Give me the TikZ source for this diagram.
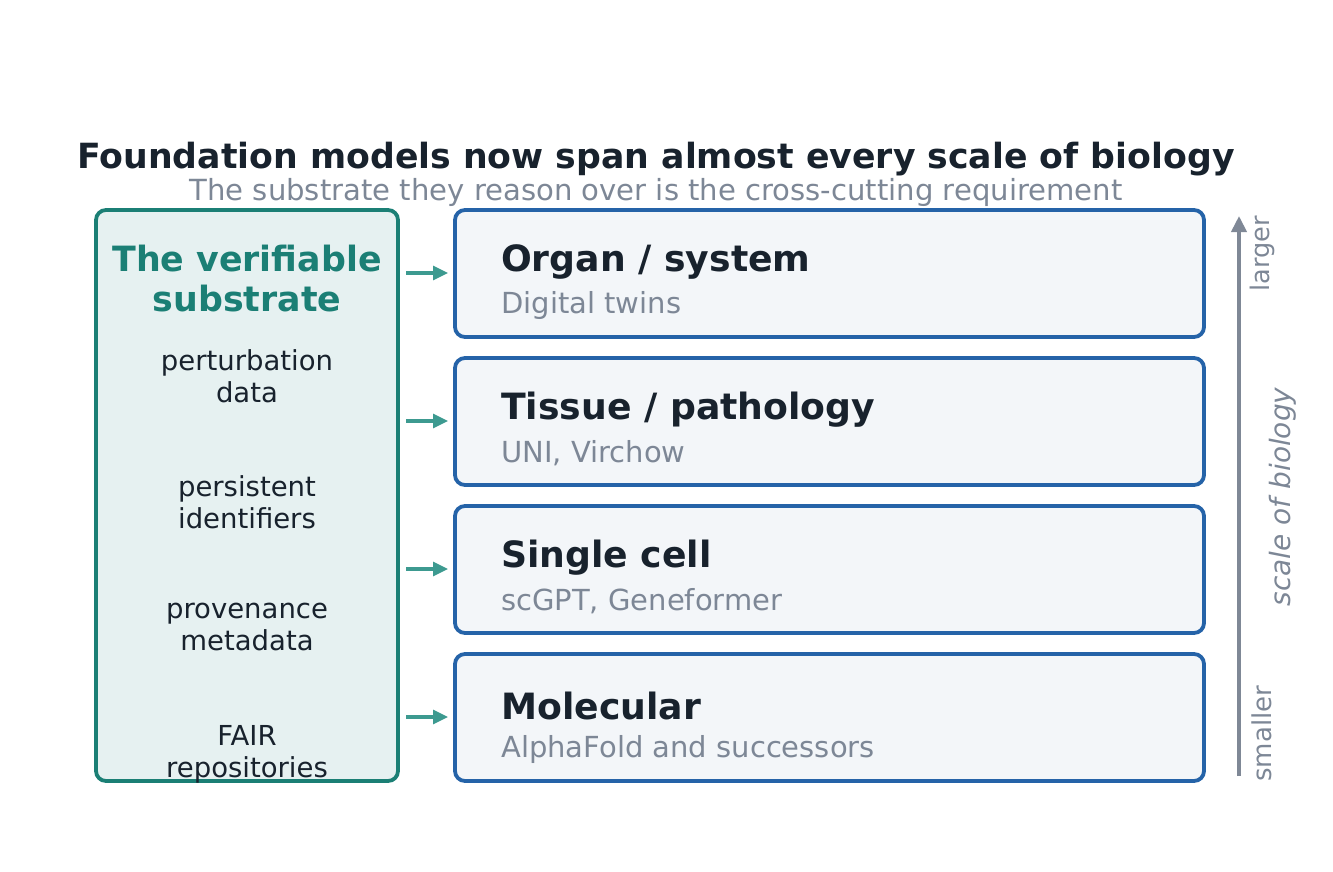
\documentclass[tikz,border=0pt]{standalone}
\usepackage{fontspec}
\setmainfont{DejaVu Sans}
\usetikzlibrary{arrows.meta}
\definecolor{dark}{HTML}{18222D}
\definecolor{gray}{HTML}{7D8796}
\definecolor{teal}{HTML}{1B7F75}
\definecolor{tealfill}{HTML}{E6F1F1}
\definecolor{tealarrow}{HTML}{3D9A90}
\definecolor{blue}{HTML}{2563A8}
\definecolor{bluefill}{HTML}{F3F6F9}
\definecolor{axis}{HTML}{7F8896}
\tikzset{
  x=1pt,y=-1pt,
  scalebox/.style={draw=blue,fill=bluefill,line width=3.8pt,rounded corners=10pt},
  headtxt/.style={anchor=west,text=dark,font=\fontsize{36.2}{40}\selectfont\bfseries,inner sep=0},
  subtxt/.style={anchor=west,text=gray,font=\fontsize{29}{32}\selectfont,inner sep=0},
  itemtxt/.style={align=center,text=dark,font=\fontsize{27.5}{32}\selectfont,inner sep=0},
  feed/.style={draw=tealarrow,line width=3.2pt,-{Triangle[length=15pt,width=14pt]}},
}
\begin{document}
\begin{tikzpicture}
\useasboundingbox (0,0) rectangle (1333,872);
\node[text=dark,font=\fontsize{34.7}{40}\selectfont\bfseries,inner sep=0] (title) at (656,159) {Foundation models now span almost every scale of biology};
\node[text=gray,font=\fontsize{29.1}{32}\selectfont,inner sep=0] (subtitle) at (656,192) {The substrate they reason over is the cross-cutting requirement};
% left box
\draw[draw=teal,fill=tealfill,line width=3.8pt,rounded corners=10pt] (96,210) rectangle (398,781);
\node[align=center,text=teal,font=\fontsize{34.8}{40}\selectfont\bfseries,inner sep=0] (subst) at (247,279) {The verifiable\\substrate};
\node[itemtxt] (i1) at (247,376) {perturbation\\data};
\node[itemtxt] (i2) at (247,502) {persistent\\identifiers};
\node[itemtxt] (i3) at (247,627) {provenance\\metadata};
\node[itemtxt] (i4) at (247,754) {FAIR\\repositories};
% right boxes
\foreach \n/\t/\h/\s in {1/210/{Organ / system}/{Digital twins},2/358/{Tissue / pathology}/{UNI, Virchow},3/506/{Single cell}/{scGPT, Geneformer},4/654/{Molecular}/{AlphaFold and successors}}{
  \draw[scalebox] (455,\t) rectangle (1204,\t+127);
  \node[headtxt] (h\n) at (501,\t+52) {\h};
  \node[subtxt] (s\n) at (501,\t+95) {\s};
  \coordinate (a\n) at (406,\t+63);
  \coordinate (b\n) at (448,\t+63);
  \draw[feed] (a\n) -- (b\n);
}
% axis
\coordinate (ax0) at (1239,776);
\coordinate (ax1) at (1239,216);
\draw[draw=axis,line width=3.8pt,-{Triangle[length=16pt,width=15pt]}] (ax0) -- (ax1);
\node[rotate=90,anchor=east,text=gray,font=\fontsize{25.6}{28}\selectfont,inner sep=0] (larger) at (1262,216) {larger};
\node[rotate=90,anchor=west,text=gray,font=\fontsize{26}{28}\selectfont,inner sep=0] (smaller) at (1262,782) {smaller};
\node[rotate=90,text=gray,font=\fontsize{28}{30}\selectfont\itshape,inner sep=0] (scale) at (1283,497) {scale of biology};
\end{tikzpicture}
\end{document}
